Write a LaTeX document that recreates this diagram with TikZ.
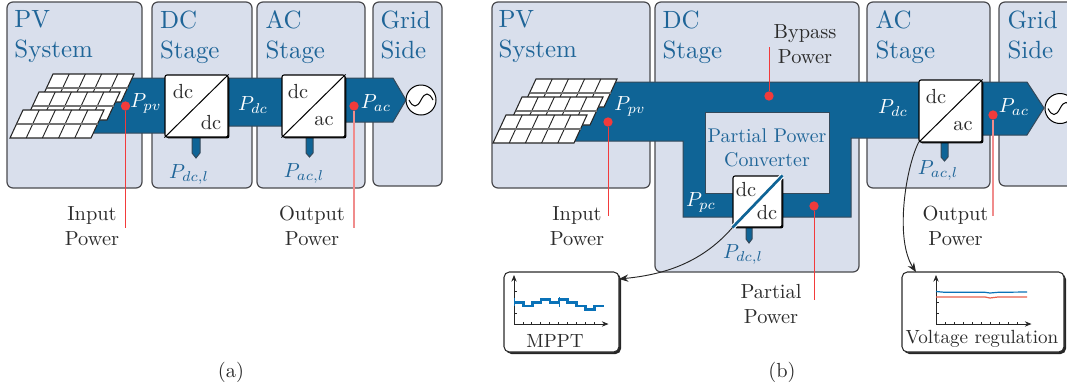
\RequirePackage{fix-cm}
\documentclass[tikz,border=0pt]{standalone}
\usetikzlibrary{arrows.meta,shadows}
\definecolor{panelfill}{HTML}{D9DFEC}
\definecolor{paneledge}{HTML}{4A4A4E}
\definecolor{busblue}{HTML}{0F6496}
\definecolor{busedge}{HTML}{34495A}
\definecolor{headblue}{HTML}{1F6598}
\definecolor{dotred}{HTML}{F23B3B}
\definecolor{palered}{HTML}{F08C8C}
\definecolor{inkgrey}{HTML}{2B2B2B}
\definecolor{stepblue}{HTML}{0A72B8}
\definecolor{tracered}{HTML}{E8604C}
\tikzset{
  x=0.75pt,y=-0.75pt,
  stagepanel/.style={draw=paneledge,fill=panelfill,line width=0.9pt,rounded corners=4.5pt},
  bus/.style={draw=busedge,fill=busblue,line width=0.75pt},
  hole/.style={draw=busedge,fill=panelfill,line width=0.75pt},
  heading/.style={anchor=north west,inner sep=0pt,align=left,text=headblue,scale=1.87,font=\fontsize{10}{12}\selectfont},
  bodytxt/.style={inner sep=0pt,align=center,text=inkgrey,scale=1.53,font=\fontsize{10}{12.2}\selectfont},
  boxtxt/.style={inner sep=0pt,align=center,text=inkgrey,scale=1.43,font=\fontsize{10}{12}\selectfont},
  bluetxt/.style={inner sep=0pt,align=center,text=headblue,scale=1.49,font=\fontsize{10}{12.3}\selectfont},
  powerw/.style={inner sep=0pt,text=white,scale=1.53,font=\fontsize{10}{12}\selectfont},
  powerb/.style={inner sep=0pt,text=headblue,scale=1.53,font=\fontsize{10}{12}\selectfont},
  convlabel/.style={inner sep=0pt,text=inkgrey,scale=1.53,font=\fontsize{10}{12}\selectfont},
  conv/.style={draw=black,fill=white,line width=0.8pt,rounded corners=1.5pt,minimum width=47.25pt,minimum height=46.5pt,inner sep=0pt,
    general shadow={fill=black,shadow xshift=1pt,shadow yshift=-1pt}},
  convsmall/.style={conv,minimum width=36.75pt,minimum height=38.25pt},
  diag/.style={draw=black,line width=0.75pt},
  dot/.style={circle,fill=dotred,inner sep=0pt,minimum size=7pt},
  redline/.style={draw=dotred,line width=0.75pt},
  paleline/.style={draw=palered,line width=0.9pt},
  source/.style={circle,draw=black,fill=white,line width=0.75pt,minimum size=22.5pt,inner sep=0pt},
  chartbox/.style={draw=inkgrey,fill=white,line width=0.8pt,rounded corners=4pt,inner sep=0pt,
    general shadow={fill=black!85,shadow xshift=1.5pt,shadow yshift=-1.5pt}},
  axisline/.style={draw=black!85,line width=0.6pt,-{Stealth[length=5pt,width=4pt]}},
  tick/.style={draw=black!85,line width=0.5pt},
  curvearrow/.style={draw=black!85,line width=0.7pt,-{Stealth[length=7pt,width=5.5pt]}},
  pvarray/.pic={
    \draw[fill=white,draw=black!85,line width=0.8pt] (0,0) -- (81,0) -- (94,-28) -- (13,-28) -- cycle;
    \foreach \i in {1,2,3,4} \draw[black!85,line width=0.7pt] ({16.2*\i},0) -- ({13+16.2*\i},-28);
    \draw[black!55,line width=1pt] (6.5,-14) -- (87.5,-14);
  }
}
\newcommand{\sinewave}[1]{\draw[black,line width=0.75pt] ([xshift=-9pt]#1.center) .. controls +(3pt,-6pt) and +(-3pt,-6pt) .. (#1.center) .. controls +(3pt,6pt) and +(-3pt,6pt) .. ([xshift=9pt]#1.center);}
\begin{document}
\begin{tikzpicture}
\useasboundingbox (0,0) rectangle (1067,390);
\clip (0,0) rectangle (1067,390);

% ---------- (a) panels
\draw[stagepanel] (7,2) rectangle (142,188);
\draw[stagepanel] (152,2) rectangle (252,188);
\draw[stagepanel] (257,2) rectangle (365,188);
\draw[stagepanel] (373,2) rectangle (442,186);
\node[heading] (ha1) at (14,10) {PV\\System};
\node[heading] (ha2) at (159.5,10) {DC\\Stage};
\node[heading] (ha3) at (265,10) {AC\\Stage};
\node[heading] (ha4) at (380,10) {Grid\\Side};

% (a) bus
\draw[bus] (100,78) -- (393,78) -- (406,100) -- (393,122) -- (313,122) -- (313,126) -- (228,126) -- (228,133) -- (80,133) -- cycle;
\draw[bus] (192,130) -- (200,130) -- (200,153) -- (196,158) -- (192,153) -- cycle;
\draw[bus] (306,130) -- (313,130) -- (313,153) -- (309.5,157) -- (306,153) -- cycle;
\pic at (40,102) {pvarray};
\pic at (26,120) {pvarray};
\pic at (10,138) {pvarray};
\node[source] (gridA) at (421,100) {};
\sinewave{gridA}
\node[conv] (c1) at (196.5,106) {};
\draw[diag] (c1.south west) -- (c1.north east);
\node[convlabel] (c1t) at (183,92) {dc};
\node[convlabel] (c1b) at (211,123) {dc};
\node[conv] (c2) at (313.5,106) {};
\draw[diag] (c2.south west) -- (c2.north east);
\node[convlabel] (c2t) at (298,92) {dc};
\node[convlabel] (c2b) at (324,121) {ac};
\node[powerw] (la1) at (146,103) {$P_{pv}$};
\node[powerw] (la2) at (253,105) {$P_{dc}$};
\node[powerw] (la3) at (376,103) {$P_{ac}$};
\node[powerb] (la4) at (189,174) {$P_{dc,l}$};
\node[powerb] (la5) at (304,173) {$P_{ac,l}$};
\node[dot] (da1) at (125.5,106) {};
\node[dot] (da2) at (354,106) {};
\coordinate (ea1) at (125.5,228);
\coordinate (ea2) at (354,228);
\draw[redline] (da1) -- (ea1);
\draw[paleline] (da2) -- (ea2);
\node[bodytxt] (ta1) at (92,226) {Input\\Power};
\node[bodytxt] (ta2) at (312,226) {Output\\Power};
\node[bodytxt] (capa) at (231,372) {(a)};

% ---------- (b) panels
\draw[stagepanel] (492,2) rectangle (650,188);
\draw[stagepanel] (655,2) rectangle (859,272);
\draw[stagepanel] (867,2) rectangle (990,188);
\draw[stagepanel] (999,2) rectangle (1090,186);
\node[heading] (hb1) at (498,10) {PV\\System};
\node[heading] (hb2) at (662,10) {DC\\Stage};
\node[heading] (hb3) at (875,10) {AC\\Stage};
\node[heading] (hb4) at (1007,10) {Grid\\Side};

% (b) bus
\draw[bus] (580,82) -- (1027,82) -- (1044,108) -- (1027,135) -- (960,135) -- (960,138) -- (851,138) -- (851,217) -- (683,217) -- (683,141) -- (560,141) -- cycle;
\draw[hole] (705,112) rectangle (829,193);
\draw[bus] (941,136) -- (948,136) -- (948,157) -- (944.5,161) -- (941,157) -- cycle;
\draw[bus] (746,222) -- (752,222) -- (752,239) -- (749,243) -- (746,239) -- cycle;
\pic at (523,107) {pvarray};
\pic at (509,125) {pvarray};
\pic at (493,143) {pvarray};
\node[source] (gridB) at (1060,108.5) {};
\sinewave{gridB}
\node[conv] (c3) at (950.5,111) {};
\draw[diag] (c3.south west) -- (c3.north east);
\node[convlabel] (c3t) at (936,97) {dc};
\node[convlabel] (c3b) at (963,126) {ac};
\node[convsmall] (c4) at (757.5,201.5) {};
\draw[draw=white,line width=3.6pt] (c4.south west) -- (c4.north east);
\draw[draw=busblue,line width=2pt] (c4.south west) -- (c4.north east);
\node[convlabel] (c4t) at (746,190) {dc};
\node[convlabel] (c4b) at (767,213) {dc};
\node[powerw] (lb1) at (630,106) {$P_{pv}$};
\node[powerw] (lb2) at (893,108) {$P_{dc}$};
\node[powerw] (lb3) at (1014,107) {$P_{ac}$};
\node[powerw] (lb4) at (701,202) {$P_{pc}$};
\node[powerb] (lb5) at (743,254) {$P_{dc,l}$};
\node[powerb] (lb6) at (938,170) {$P_{ac,l}$};
\node[bluetxt] (ppc) at (767,148) {Partial Power\\Converter};
\node[dot] (db1) at (608,122) {};
\node[dot] (db2) at (769,96) {};
\node[dot] (db3) at (993,115) {};
\node[dot] (db4) at (814,206) {};
\coordinate (eb1) at (608,216);
\coordinate (eb2) at (769,47);
\coordinate (eb3) at (993,216);
\coordinate (eb4) at (814,300);
\draw[redline] (db1) -- (eb1);
\draw[redline] (db2) -- (eb2);
\draw[paleline] (db3) -- (eb3);
\draw[redline] (db4) -- (eb4);
\node[bodytxt] (tb1) at (577,226) {Input\\Power};
\node[bodytxt] (tb2) at (805,44) {Bypass\\Power};
\node[bodytxt] (tb3) at (955.5,226) {Output\\Power};
\node[bodytxt] (tb4) at (771,304) {Partial\\Power};
\node[bodytxt] (capb) at (782,372) {(b)};

% MPPT box
\node[chartbox,minimum width=86.25pt,minimum height=60pt] (mppt) at (561.5,312) {};
\coordinate (mo) at (514,324);
\coordinate (mx) at (608.5,324);
\coordinate (my) at (514,275);
\foreach \i in {1,...,9} \draw[tick] ({514+8.9*\i},324) -- ({514+8.9*\i},321.5);
\foreach \j in {1,2,3} \draw[tick] (514,{324-11*\j}) -- (516.5,{324-11*\j});
\draw[axisline] (mo) -- (mx);
\draw[axisline] (mo) -- (my);
\draw[stepblue,line width=2pt] (514,302.7) -- (523.3,302.7) -- (523.3,306) -- (532.3,306) -- (532.3,302.7) -- (541,302.7) -- (541,299.3) -- (550,299.3) -- (550,302.7) -- (559,302.7) -- (559,299.3) -- (567.7,299.3) -- (567.7,302.7) -- (576.7,302.7) -- (576.7,306) -- (585.7,306) -- (585.7,309.3) -- (594.3,309.3) -- (594.3,306) -- (604,306);
\draw[stepblue,line width=0.7pt] (514,298) -- (514,306);
\draw[stepblue,line width=0.7pt] (559,297) -- (559,307);
\node[boxtxt] (mt) at (555,341) {MPPT};

% Voltage box
\node[chartbox,minimum width=121.5pt,minimum height=60pt] (vbox) at (983,312) {};
\coordinate (vo) at (936,324);
\coordinate (vx) at (1031.5,324);
\coordinate (vy) at (936,275);
\foreach \i in {1,...,9} \draw[tick] ({936+9*\i},324) -- ({936+9*\i},321.5);
\foreach \j in {1,2,3} \draw[tick] (936,{324-11*\j}) -- (938.5,{324-11*\j});
\draw[axisline] (vo) -- (vx);
\draw[axisline] (vo) -- (vy);
\draw[stepblue,line width=0.9pt] (936,291.5) -- (945,292.3) -- (985,292.3) -- (990,293) -- (998,292.3) -- (1027,292);
\draw[tracered,line width=0.9pt] (936,297) -- (985,297) -- (990,298) -- (998,297) -- (1027,297);
\node[boxtxt] (vt) at (982,339) {Voltage regulation};

% curved connectors
\coordinate (mppin) at (619,279);
\coordinate (vin) at (916,272);
\draw[curvearrow] (c4.south west) .. controls (700,265) and (660,275) .. (mppin);
\draw[curvearrow] (c3.south west) .. controls (905,170) and (895,240) .. (vin);
\end{tikzpicture}
\end{document}
